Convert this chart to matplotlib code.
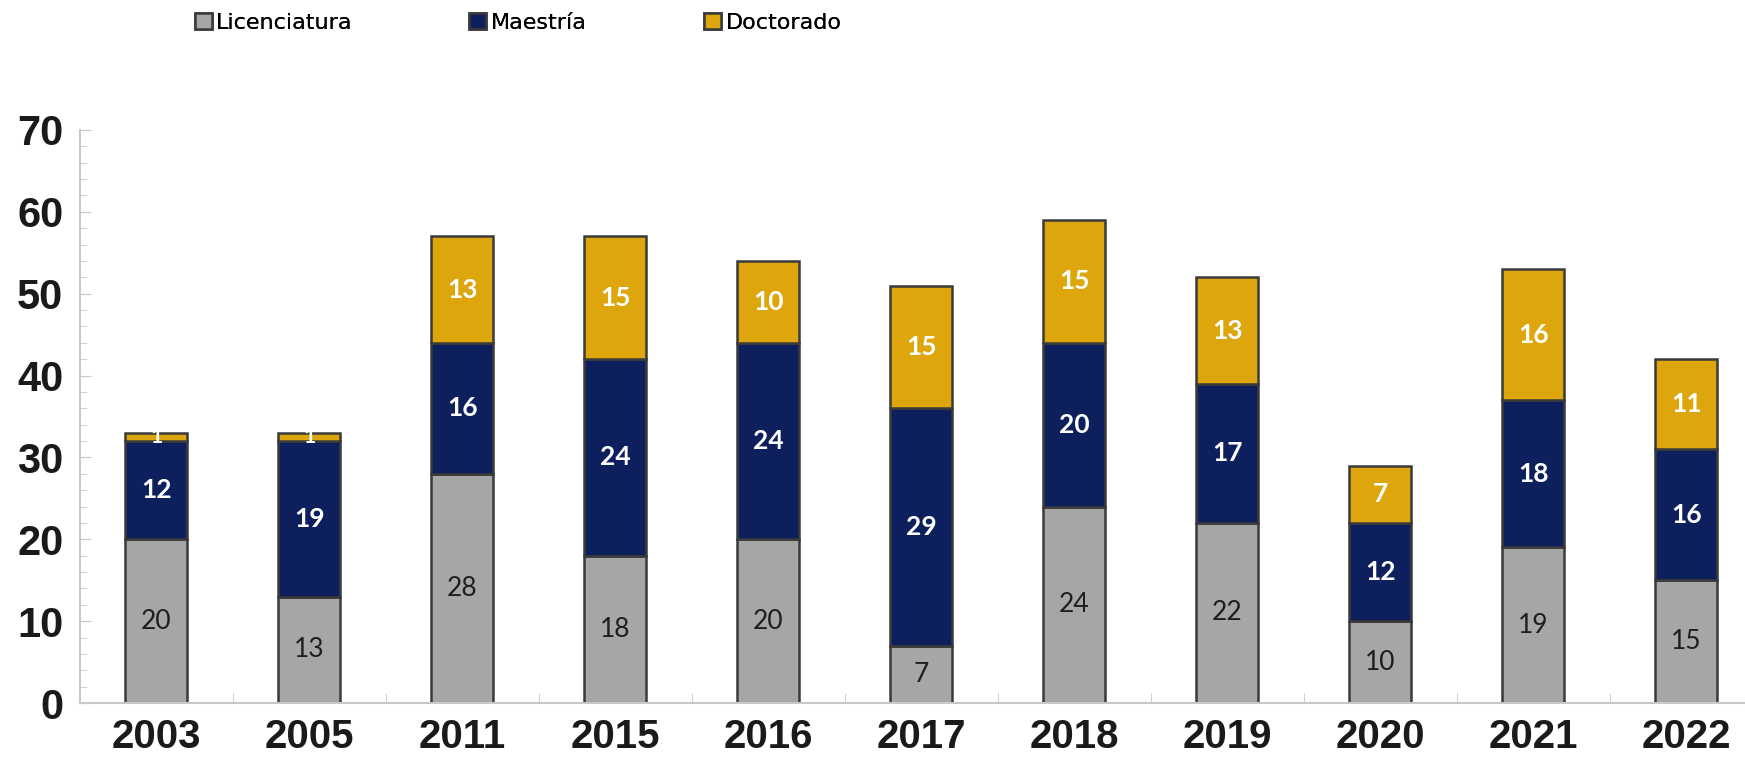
import numpy as np
import matplotlib.pyplot as plt
from matplotlib.ticker import MultipleLocator, FixedLocator

# data
years = ['2003', '2005', '2011', '2015', '2016', '2017', '2018', '2019', '2020', '2021', '2022']
licenciatura = [20, 13, 28, 18, 20, 7, 24, 22, 10, 19, 15]
maestria = [12, 19, 16, 24, 24, 29, 20, 17, 12, 18, 16]
doctorado = [1, 1, 13, 15, 10, 15, 15, 13, 7, 16, 11]

c_lic = '#A6A6A6'
c_mae = '#0E1F5E'
c_doc = '#DDA60C'
edge = '#3A3A3A'

fig = plt.figure(figsize=(17.45, 7.61), dpi=100)
ax = fig.add_axes([0.0458, 0.0762, 0.9542, 0.753])

x = np.arange(len(years))
w = 0.405
lic = np.array(licenciatura)
mae = np.array(maestria)
doc = np.array(doctorado)

b1 = ax.bar(x, lic, w, color=c_lic, edgecolor=edge, linewidth=1.8, label='Licenciatura')
b2 = ax.bar(x, mae, w, bottom=lic, color=c_mae, edgecolor=edge, linewidth=1.8, label='Maestría')
b3 = ax.bar(x, doc, w, bottom=lic + mae, color=c_doc, edgecolor=edge, linewidth=1.8, label='Doctorado')

# segment labels
for i in range(len(years)):
    ax.text(x[i], lic[i] / 2, str(lic[i]), ha='center', va='center',
            fontsize=19, color='#1E1E1E', family='Lato')
    ax.text(x[i], lic[i] + mae[i] / 2, str(mae[i]), ha='center', va='center',
            fontsize=19, color='white', fontweight='bold', family='Lato')
    ax.text(x[i], lic[i] + mae[i] + doc[i] / 2, str(doc[i]), ha='center', va='center',
            fontsize=19 if doc[i] > 2 else 15, color='white', fontweight='bold', family='Lato')

ax.set_xlim(-0.5, 10.385)
ax.set_ylim(0, 70)
ax.yaxis.set_major_locator(MultipleLocator(10))
ax.yaxis.set_minor_locator(MultipleLocator(2))
ax.set_xticks(x)
ax.set_xticklabels(years)
ax.xaxis.set_minor_locator(FixedLocator(x[:-1] + 0.5))

for s in ['top', 'right']:
    ax.spines[s].set_visible(False)
for s in ['left', 'bottom']:
    ax.spines[s].set_color('#C8C8C8')
    ax.spines[s].set_linewidth(1.5)

ax.tick_params(axis='y', which='major', direction='in', length=8, color='#C8C8C8', pad=12)
ax.tick_params(axis='y', which='minor', direction='in', length=5, color='#C8C8C8')
ax.tick_params(axis='x', which='major', length=0, pad=11)
ax.tick_params(axis='x', which='minor', direction='in', length=7, color='#C8C8C8')
for lab in ax.get_yticklabels():
    lab.set_fontweight('bold')
    lab.set_family('Liberation Sans')
    lab.set_fontsize(30)
    lab.set_color('#1A1A1A')
for lab in ax.get_xticklabels():
    lab.set_fontweight('bold')
    lab.set_family('Liberation Sans')
    lab.set_fontsize(29)
    lab.set_color('#1A1A1A')

# legend, one entry each so the spacing follows the original
leg_x = [0.1118, 0.2690, 0.4036]
for h, lx in zip([b1, b2, b3], leg_x):
    lg = fig.legend(handles=[h], loc='center left', bbox_to_anchor=(lx, 0.970),
                    frameon=False, handlelength=0.75, handleheight=0.75,
                    handletextpad=0.2, borderpad=0, borderaxespad=0,
                    prop={'family': 'DejaVu Sans', 'size': 16})
    fig.add_artist(lg)

fig.savefig('out.png', dpi=100)
